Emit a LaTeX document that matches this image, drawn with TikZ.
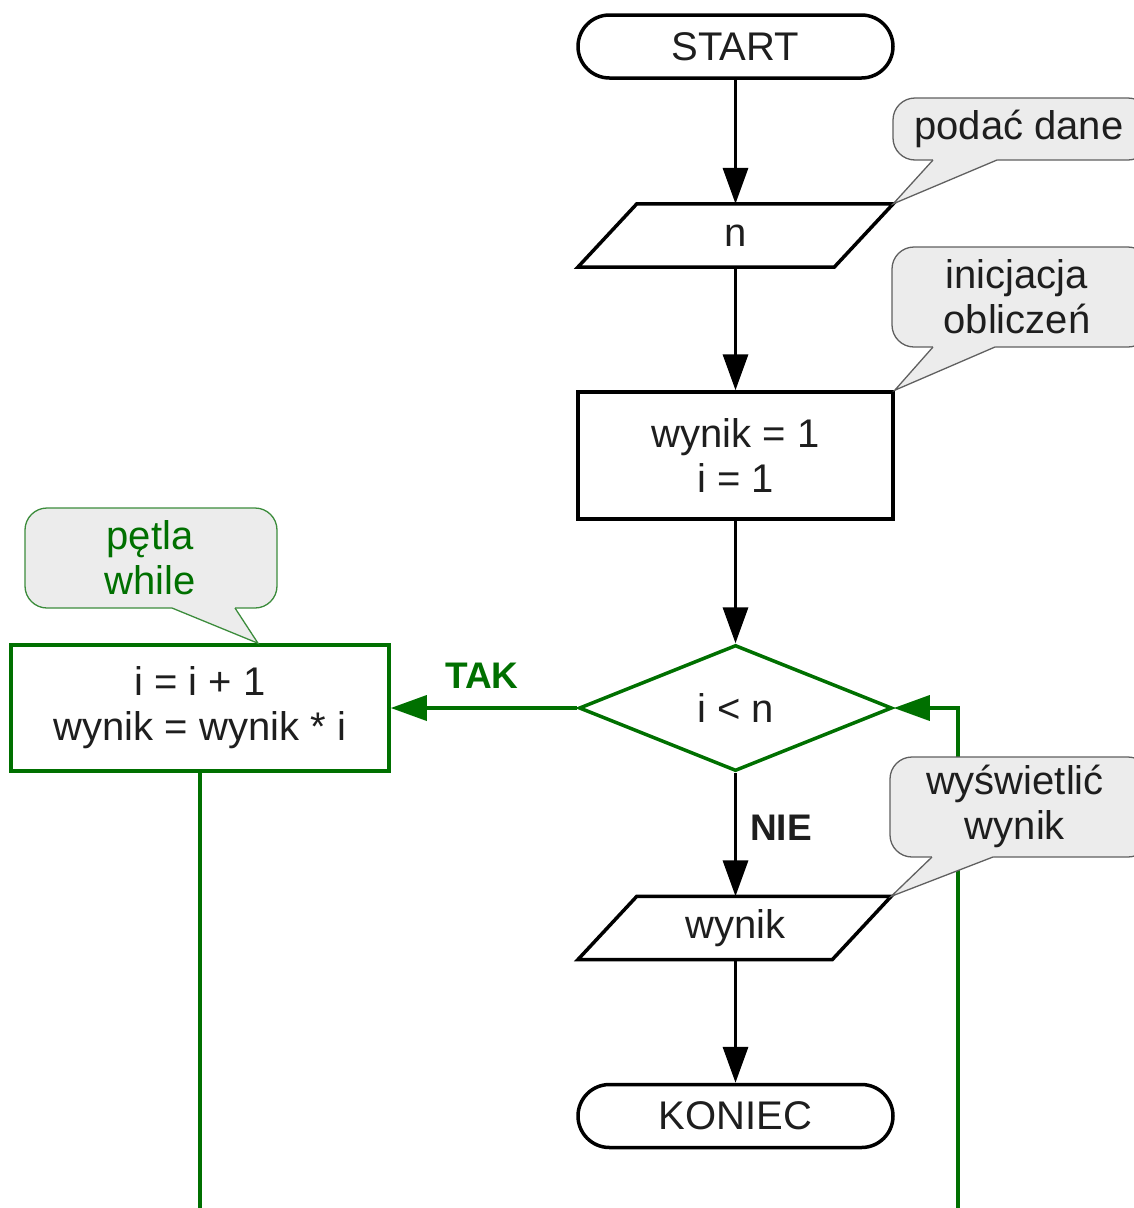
\documentclass[tikz,border=0pt]{standalone}
\usepackage{fontspec}
\setmainfont{Liberation Sans}
\usetikzlibrary{arrows.meta,shapes.geometric}
\definecolor{flowgreen}{RGB}{0,112,0}
\definecolor{notefill}{RGB}{236,236,236}
\definecolor{noteline}{RGB}{96,96,96}
\definecolor{notegreen}{RGB}{60,140,60}
\definecolor{inkgray}{RGB}{30,30,30}

% callout: body corners (x1,y1)-(x2,y2), pointer base pa..pb on the lower edge, tip at #7
\newcommand\drawcallout[8]{%
  \filldraw[note,#8,rounded corners=22pt] (#1,#2) rectangle (#3,#4);
  \fill[notefill] (#5,#4-3) -- (#5,#4) -- #7 -- (#6,#4) -- (#6,#4-3) -- cycle;
  \draw[note,#8,fill=none] (#5,#4) -- #7 -- (#6,#4);
}

\begin{document}
\begin{tikzpicture}[x=1pt,y=-1pt,
  every node/.style={font=\fontsize{40}{45}\selectfont, text=inkgray},
  terminal/.style={draw, line width=3.5pt, rounded corners=31.5pt,
    minimum width=315pt, minimum height=63pt, inner sep=0pt},
  iobox/.style={minimum width=315pt, minimum height=63pt, inner sep=0pt},
  process/.style={draw, line width=3.5pt, minimum width=315pt,
    minimum height=127pt, align=center, inner sep=0pt},
  decision/.style={diamond, draw=flowgreen, line width=3.5pt,
    minimum width=313pt, minimum height=126pt, inner sep=0pt},
  flow/.style={line width=3.5pt, -{Triangle[length=36pt,width=25pt]}},
  note/.style={fill=notefill, draw=noteline, line width=1.3pt},
  notetext/.style={align=center},
  branchlabel/.style={font=\bfseries\fontsize{37}{40}\selectfont}]

\useasboundingbox (0,0) rectangle (1134,1208);
\clip (0,0) rectangle (1134,1208);

% main flow
\node[terminal] (start) at (735.5,46.5) {START};
\node[iobox] (in) at (735.5,235.5) {n};
\draw[line width=3.5pt] (in.south west) -- ([xshift=59pt]in.north west)
  -- (in.north east) -- ([xshift=-59pt]in.south east) -- cycle;
\node[process] (init) at (735.5,455.5) {wynik = 1\\i = 1};
\node[decision] (cond) at (735.5,708) {i < n};
\node[process, draw=flowgreen, minimum width=378pt, minimum height=126pt]
  (loop) at (200,708) {i = i + 1\\wynik = wynik * i};
\node[iobox] (out) at (735.5,928) {wynik};
\draw[line width=3.5pt] (out.south west) -- ([xshift=59pt]out.north west)
  -- ([xshift=-2pt]out.north east) -- ([xshift=-61pt]out.south east) -- cycle;
\node[terminal] (end) at (735.5,1116) {KONIEC};

\draw[flow] (start.south) -- (in.north);
\draw[flow] (in.south) -- (init.north);
\draw[flow] (init.south) -- (cond.north);
\draw[flow] (cond.south) -- (out.north);
\node[branchlabel] (nie) at (781,828) {NIE};
\draw[flow] (out.south) -- (end.north);

% loop branch
\draw[flow, flowgreen] (cond.west) -- (loop.east);
\node[branchlabel, text=flowgreen] (tak) at (482,676) {TAK};
\coordinate (loopdown) at (200,1215);
\coordinate (loopup) at (958,1215);
\draw[line width=3.5pt, flowgreen] (loop.south) -- (loopdown);
\draw[flow, flowgreen] (loopup) |- (cond.east);

% comments
\drawcallout{893}{98}{1150}{160}{933}{997}{(in.north east)}{}
\node[notetext] (c1) at (1019,129) {podać dane};

\drawcallout{892}{247}{1150}{347}{933}{995}{(init.north east)}{}
\node[notetext] (c2) at (1017,297) {inicjacja\\obliczeń};

\drawcallout{25}{508}{277}{608}{172}{235}{([xshift=58pt]loop.north)}{draw=notegreen}
\node[notetext, text=flowgreen] (c3) at (150,558) {pętla\\while};

\drawcallout{890}{757}{1150}{857}{932}{993}{([xshift=-2pt]out.north east)}{}
\node[notetext] (c4) at (1015,806) {wyświetlić\\wynik};
\end{tikzpicture}
\end{document}
